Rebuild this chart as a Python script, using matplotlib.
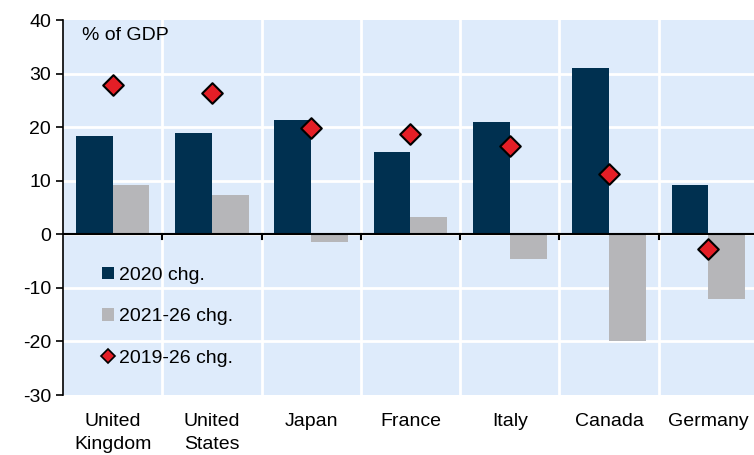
import numpy as np
from matplotlib import pyplot as plt
from matplotlib.lines import Line2D
from matplotlib.patches import Patch

plt.rcParams['font.family'] = ['Liberation Sans', 'DejaVu Sans']
plt.rcParams['axes.unicode_minus'] = False

countries = ["United\nKingdom", "United\nStates", "Japan", "France", "Italy", "Canada", "Germany"]
chg_2020 = [18.4, 18.9, 21.3, 15.3, 20.9, 31.0, 9.2]
chg_2021_26 = [9.2, 7.3, -1.5, 3.2, -4.6, -20.0, -12.0]
chg_2019_26 = [27.9, 26.3, 19.8, 18.8, 16.4, 11.2, -2.7]

navy = "#003050"
grey = "#b6b6b9"
red = "#e41e26"
bg = "#deebfb"
fs = 14

fig = plt.figure(figsize=(7.54, 4.55), dpi=100)
ax = fig.add_axes([63 / 754, 60 / 455, 691 / 754, 375 / 455])
ax.set_facecolor(bg)

x = np.arange(len(countries))
w = 0.37
ax.bar(x - w / 2, chg_2020, width=w, color=navy, zorder=3)
ax.bar(x + w / 2, chg_2021_26, width=w, color=grey, zorder=3)
ax.scatter(x, chg_2019_26, marker="D", s=110, color=red, edgecolor="black",
           linewidth=1.5, zorder=4)

ax.set_xlim(-0.5, 6.46)
ax.set_ylim(-30, 40)
ax.set_yticks(range(-30, 41, 10))

# white grid: horizontal at each 10, vertical between countries
for yv in range(-20, 40, 10):
    ax.axhline(yv, color="white", lw=2, zorder=1)
for xv in np.arange(0.5, 6.5, 1):
    ax.axvline(xv, color="white", lw=2, zorder=1)
ax.axhline(0, color="black", lw=1.5, zorder=5)

for s in ["top", "right", "bottom"]:
    ax.spines[s].set_visible(False)
ax.spines["left"].set_linewidth(1.2)

ax.set_xticks(x)
ax.set_xticklabels(countries, fontsize=fs, linespacing=1.45)
ax.tick_params(axis="x", length=0, pad=13)
ax.tick_params(axis="y", labelsize=fs, length=5, width=1.2, direction="out")

# small ticks on the zero line between categories
for xv in np.arange(0.5, 6.5, 1):
    ax.plot([xv, xv], [0, -0.9], color="black", lw=1.5, zorder=5)

ax.text(0.027, 0.982, "% of GDP", transform=ax.transAxes, fontsize=fs,
        va="top", ha="left", zorder=6)

handles = [
    Patch(facecolor=navy, label="2020 chg."),
    Patch(facecolor=grey, label="2021-26 chg."),
    Line2D([], [], marker="D", linestyle="none", markersize=7, markerfacecolor=red,
           markeredgecolor="black", markeredgewidth=1.2, label="2019-26 chg."),
]
ax.legend(handles=handles, loc="lower left", bbox_to_anchor=(0.045, 0.055),
          frameon=False, fontsize=fs, handlelength=0.6, handleheight=0.6,
          handletextpad=0.3, labelspacing=1.25, borderaxespad=0)

fig.savefig("out.png", dpi=100)
